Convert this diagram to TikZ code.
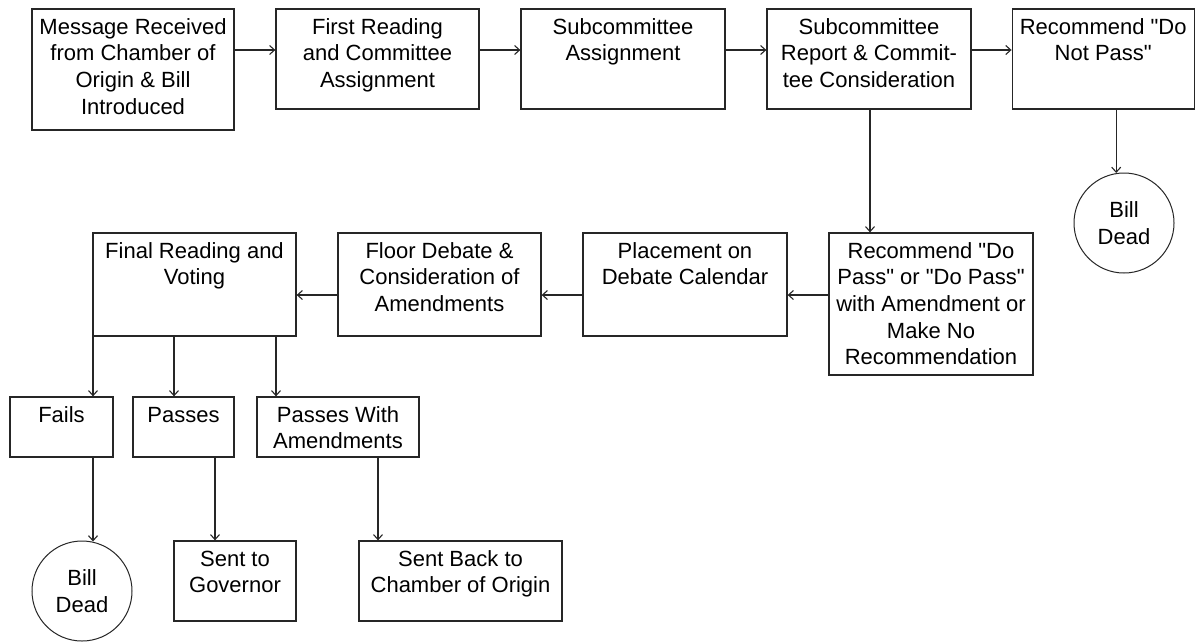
\documentclass[tikz,border=0pt]{standalone}
\usepackage{fontspec}
\setmainfont{Liberation Sans}[Ligatures=TeXOff]
\usetikzlibrary{arrows.meta}
\newcommand\boxtxt[3]{\parbox[c][#2][t]{#1}{\centering\rule{0pt}{25pt}#3\par}}
\tikzset{
  flowbox/.style={draw=black!85, line width=1.3pt, inner sep=0pt, font=\fontsize{22}{26.7}\selectfont},
  deadnode/.style={draw=black!85, circle, line width=1pt, minimum size=100pt, inner sep=0pt, align=center, font=\fontsize{22}{26.7}\selectfont},
  arr/.style={draw=black!85, line width=1.1pt, -{Straight Barb[length=5pt,width=9pt]}},
}
\begin{document}
\begin{tikzpicture}[x=1pt,y=-1pt]
\fill[white] (0,0) rectangle (1196,641);
\useasboundingbox (0,0) rectangle (1196,641);
% top row
\node[flowbox] (b1) at (133,69.5) {\boxtxt{202pt}{121pt}{Message Received\\from Chamber of\\Origin \& Bill\\Introduced}};
\node[flowbox] (b2) at (377.5,59) {\boxtxt{203pt}{100pt}{First Reading\\and Committee\\Assignment}};
\node[flowbox] (b3) at (623,59) {\boxtxt{204pt}{100pt}{Subcommittee\\Assignment}};
\node[flowbox] (b4) at (869,59) {\boxtxt{204pt}{100pt}{Subcommittee\\Report \& Commit-\\tee Consideration}};
\node[flowbox] (b5) at (1103.2,59) {\boxtxt{182pt}{100pt}{Recommend "Do\\Not Pass"}};
\node[deadnode] (d1) at (1124,223) {Bill\\Dead};
% second row
\node[flowbox] (b7) at (931,304) {\boxtxt{204pt}{142pt}{Recommend "Do\\Pass" or "Do Pass"\\with Amendment or\\Make No\\Recommendation}};
\node[flowbox] (b8) at (685,284.5) {\boxtxt{204pt}{103pt}{Placement on\\Debate Calendar}};
\node[flowbox] (b9) at (439.5,284.5) {\boxtxt{203pt}{103pt}{Floor Debate \&\\Consideration of\\Amendments}};
\node[flowbox] (b10) at (194.5,284.5) {\boxtxt{203pt}{103pt}{Final Reading and\\Voting}};
% third row
\node[flowbox] (fails) at (61.5,427) {\boxtxt{103pt}{60pt}{Fails}};
\node[flowbox] (passes) at (183.5,427) {\boxtxt{101pt}{60pt}{Passes}};
\node[flowbox] (pwa) at (338,427) {\boxtxt{162pt}{60pt}{Passes With\\Amendments}};
% bottom row
\node[deadnode] (d2) at (82,591) {Bill\\Dead};
\node[flowbox] (gov) at (235,581) {\boxtxt{122pt}{80pt}{Sent to\\Governor}};
\node[flowbox] (sb) at (460.5,581) {\boxtxt{203pt}{80pt}{Sent Back to\\Chamber of Origin}};
% connectors
\draw[arr] ([yshift=19.5pt]b1.east) -- ([yshift=9pt]b2.west);
\draw[arr] ([yshift=9pt]b2.east) -- ([yshift=9pt]b3.west);
\draw[arr] ([yshift=9pt]b3.east) -- ([yshift=9pt]b4.west);
\draw[arr] ([yshift=9pt]b4.east) -- ([yshift=9pt]b5.west);
\draw[arr] ([xshift=1pt]b4.south) -- ([xshift=1pt]b4.south |- b7.north);
\draw[arr] ([xshift=13pt]b5.south) -- ([xshift=13pt,yshift=-0.5pt]b5.south |- d1.north);
\draw[arr] ([yshift=9pt]b7.west) -- ([yshift=-10.5pt]b8.east);
\draw[arr] ([yshift=-10.5pt]b8.west) -- ([yshift=-10.5pt]b9.east);
\draw[arr] ([yshift=-10.5pt]b9.west) -- ([yshift=-10.5pt]b10.east);
\draw[arr] ([xshift=0.65pt]b10.south west) -- ([xshift=0.65pt]b10.south west |- fails.north);
\draw[arr] ([xshift=-20.5pt]b10.south) -- ([xshift=-20.5pt]b10.south |- passes.north);
\draw[arr] ([xshift=81.5pt]b10.south) -- ([xshift=81.5pt]b10.south |- pwa.north);
\draw[arr] ([xshift=31.5pt]fails.south) -- ([xshift=31.5pt,yshift=-1pt]fails.south |- d2.north);
\draw[arr] ([xshift=31.5pt]passes.south) -- ([xshift=31.5pt]passes.south |- gov.north);
\draw[arr] ([xshift=40pt]pwa.south) -- ([xshift=40pt]pwa.south |- sb.north);
\end{tikzpicture}
\end{document}
